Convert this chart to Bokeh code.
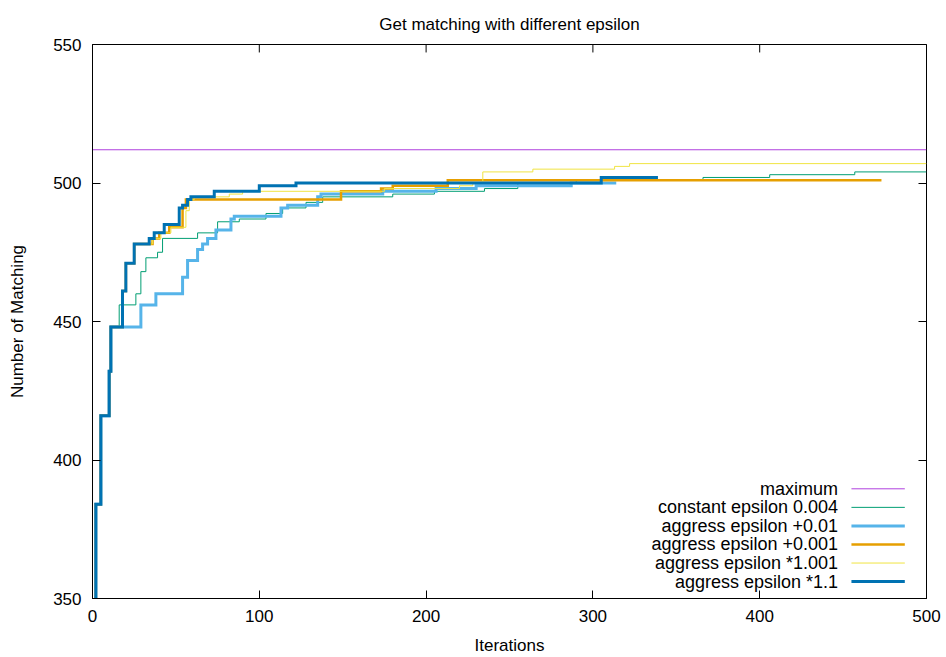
from bokeh.plotting import figure
from bokeh.models import Range1d, FixedTicker, LinearAxis, CustomJSTickFormatter
from bokeh.core.properties import value
from bokeh.embed import file_html
from bokeh.resources import INLINE

# ---------------- data ----------------
title_text = "Get matching with different epsilon"
x_label = "Iterations"
y_label = "Number of Matching"
x_ticks = [0, 100, 200, 300, 400, 500]
y_ticks = [350, 400, 450, 500, 550]

maximum_value = 512

# change points (iteration, matching); last entry is the end of the run
const_x = [0, 2, 5, 10, 11, 16, 26, 29, 32, 39, 42, 63, 75, 88, 104, 114, 128, 138, 180, 205, 235, 255, 290, 366, 406, 457, 500]
const_y = [330, 384, 416, 432, 448, 456, 460, 468, 473, 475, 480, 482, 486, 487, 489, 491, 493, 495, 496, 497, 498, 500, 501, 502, 503, 504, 504]

add01_x = [0, 2, 5, 10, 11, 29, 38, 54, 57, 63, 66, 69, 74, 83, 85, 113, 117, 135, 137, 174, 206, 230, 287, 314]
add01_y = [330, 384, 416, 432, 448, 456, 460, 466, 472, 476, 478, 480, 483, 487, 488, 491, 492, 495, 496, 497, 498, 499, 500, 500]

add001_x = [0, 2, 5, 10, 11, 18, 20, 25, 36, 40, 46, 54, 56, 149, 173, 180, 213, 473]
add001_y = [330, 384, 416, 432, 448, 461, 471, 478, 480, 482, 484, 491, 494, 497, 498, 499, 501, 501]

mul1001_x = [0, 2, 5, 10, 11, 18, 20, 25, 36, 41, 47, 56, 58, 61, 82, 90, 175, 220, 228, 234, 264, 313, 322, 500]
mul1001_y = [330, 384, 416, 432, 448, 461, 471, 478, 480, 482, 484, 490, 494, 495, 496, 497, 498, 499, 500, 504, 505, 506, 507, 507]

mul11_x = [0, 2, 5, 10, 11, 18, 20, 25, 34, 37, 43, 52, 54, 57, 59, 73, 100, 122, 305, 339]
mul11_y = [330, 384, 416, 432, 448, 461, 471, 478, 480, 482, 485, 491, 492, 494, 495, 497, 499, 500, 502, 502]

series_names = ["maximum", "constant epsilon 0.004", "aggress epsilon +0.01",
                "aggress epsilon +0.001", "aggress epsilon *1.001", "aggress epsilon *1.1"]
series_colors = ["#9400d3", "#009e73", "#56b4e9", "#e69f00", "#f0e442", "#0072b2"]
series_widths = [1, 1, 3, 2.5, 1, 3]

FONT = "Liberation Sans"
FS = "17px"
LEG_FS = "18px"

p = figure(width=946, height=657, output_backend="svg", toolbar_location=None,
           x_range=Range1d(0, 500), y_range=Range1d(350, 550),
           min_border_left=92, min_border_right=20, min_border_top=44, min_border_bottom=56)

p.title.text = title_text
p.title.align = "center"
p.title.text_font = FONT
p.title.text_font_size = FS
p.title.text_font_style = "normal"
p.title.text_color = "black"
p.title.standoff = 22

p.xgrid.visible = False
p.ygrid.visible = False
p.outline_line_color = "black"
p.outline_line_width = 1
p.outline_line_alpha = 1
p.background_fill_color = "white"
p.border_fill_color = "white"

for ax, ticks in ((p.xaxis[0], x_ticks), (p.yaxis[0], y_ticks)):
    ax.ticker = FixedTicker(ticks=ticks)
    ax.minor_tick_line_color = None
    ax.major_tick_in = 8
    ax.major_tick_out = 0
    ax.major_tick_line_color = "black"
    ax.axis_line_color = "black"
    ax.major_label_text_font = FONT
    ax.major_label_text_font_size = FS
    ax.major_label_text_color = "black"
    ax.axis_label_text_font = FONT
    ax.axis_label_text_font_size = FS
    ax.axis_label_text_font_style = "normal"
    ax.axis_label_text_color = "black"

p.xaxis.axis_label = x_label
p.yaxis.axis_label = y_label
p.xaxis.major_label_standoff = 11
p.yaxis.major_label_standoff = 11
p.xaxis.axis_label_standoff = 11
p.yaxis.axis_label_standoff = 23

# mirror ticks on the right
blank = CustomJSTickFormatter(code="return ''")
rax = LinearAxis(ticker=FixedTicker(ticks=y_ticks), formatter=blank,
                 major_tick_in=8, major_tick_out=0, minor_tick_line_color=None,
                 axis_line_color=None, major_label_standoff=0,
                 major_label_text_font_size="1px")
p.add_layout(rax, "right")

# mirror ticks along the top edge (8 px long, converted to data units)
xr0, xr1 = x_ticks[0], x_ticks[-1]
yr0, yr1 = y_ticks[0], y_ticks[-1]
tick_len_y = 8 * (yr1 - yr0) / 557
p.segment(x0=x_ticks, x1=x_ticks, y0=[yr1] * len(x_ticks),
          y1=[yr1 - tick_len_y] * len(x_ticks), line_color="black", line_width=1)

# ---------------- series ----------------
p.line(x=[xr0, xr1], y=[maximum_value, maximum_value],
       line_color=series_colors[0], line_width=series_widths[0], line_alpha=0.75)
series = [(const_x, const_y), (add01_x, add01_y), (add001_x, add001_y),
          (mul1001_x, mul1001_y), (mul11_x, mul11_y)]
for i, (sx, sy) in enumerate(series, start=1):
    p.step(x=sx, y=sy, mode="after", line_color=series_colors[i],
           line_width=series_widths[i], line_join="miter")

# ---------------- legend (gnuplot style: text left of sample) ----------------
leg_text_x = 447
leg_x0, leg_x1 = 455, 487
leg_top, leg_step = 389.6, 6.7
leg_y = [leg_top - i * leg_step for i in range(len(series_names))]
p.text(x=[leg_text_x] * len(series_names), y=leg_y, text=series_names,
       text_align="right", text_baseline="middle", text_font=value(FONT),
       text_font_size=LEG_FS, text_color="black")
p.segment(x0=[leg_x0] * len(series_names), x1=[leg_x1] * len(series_names),
          y0=leg_y, y1=leg_y, line_color=series_colors, line_width=series_widths,
          line_alpha=[0.75, 1, 1, 1, 1, 1])

open("out.html", "w").write(file_html(p, INLINE))
